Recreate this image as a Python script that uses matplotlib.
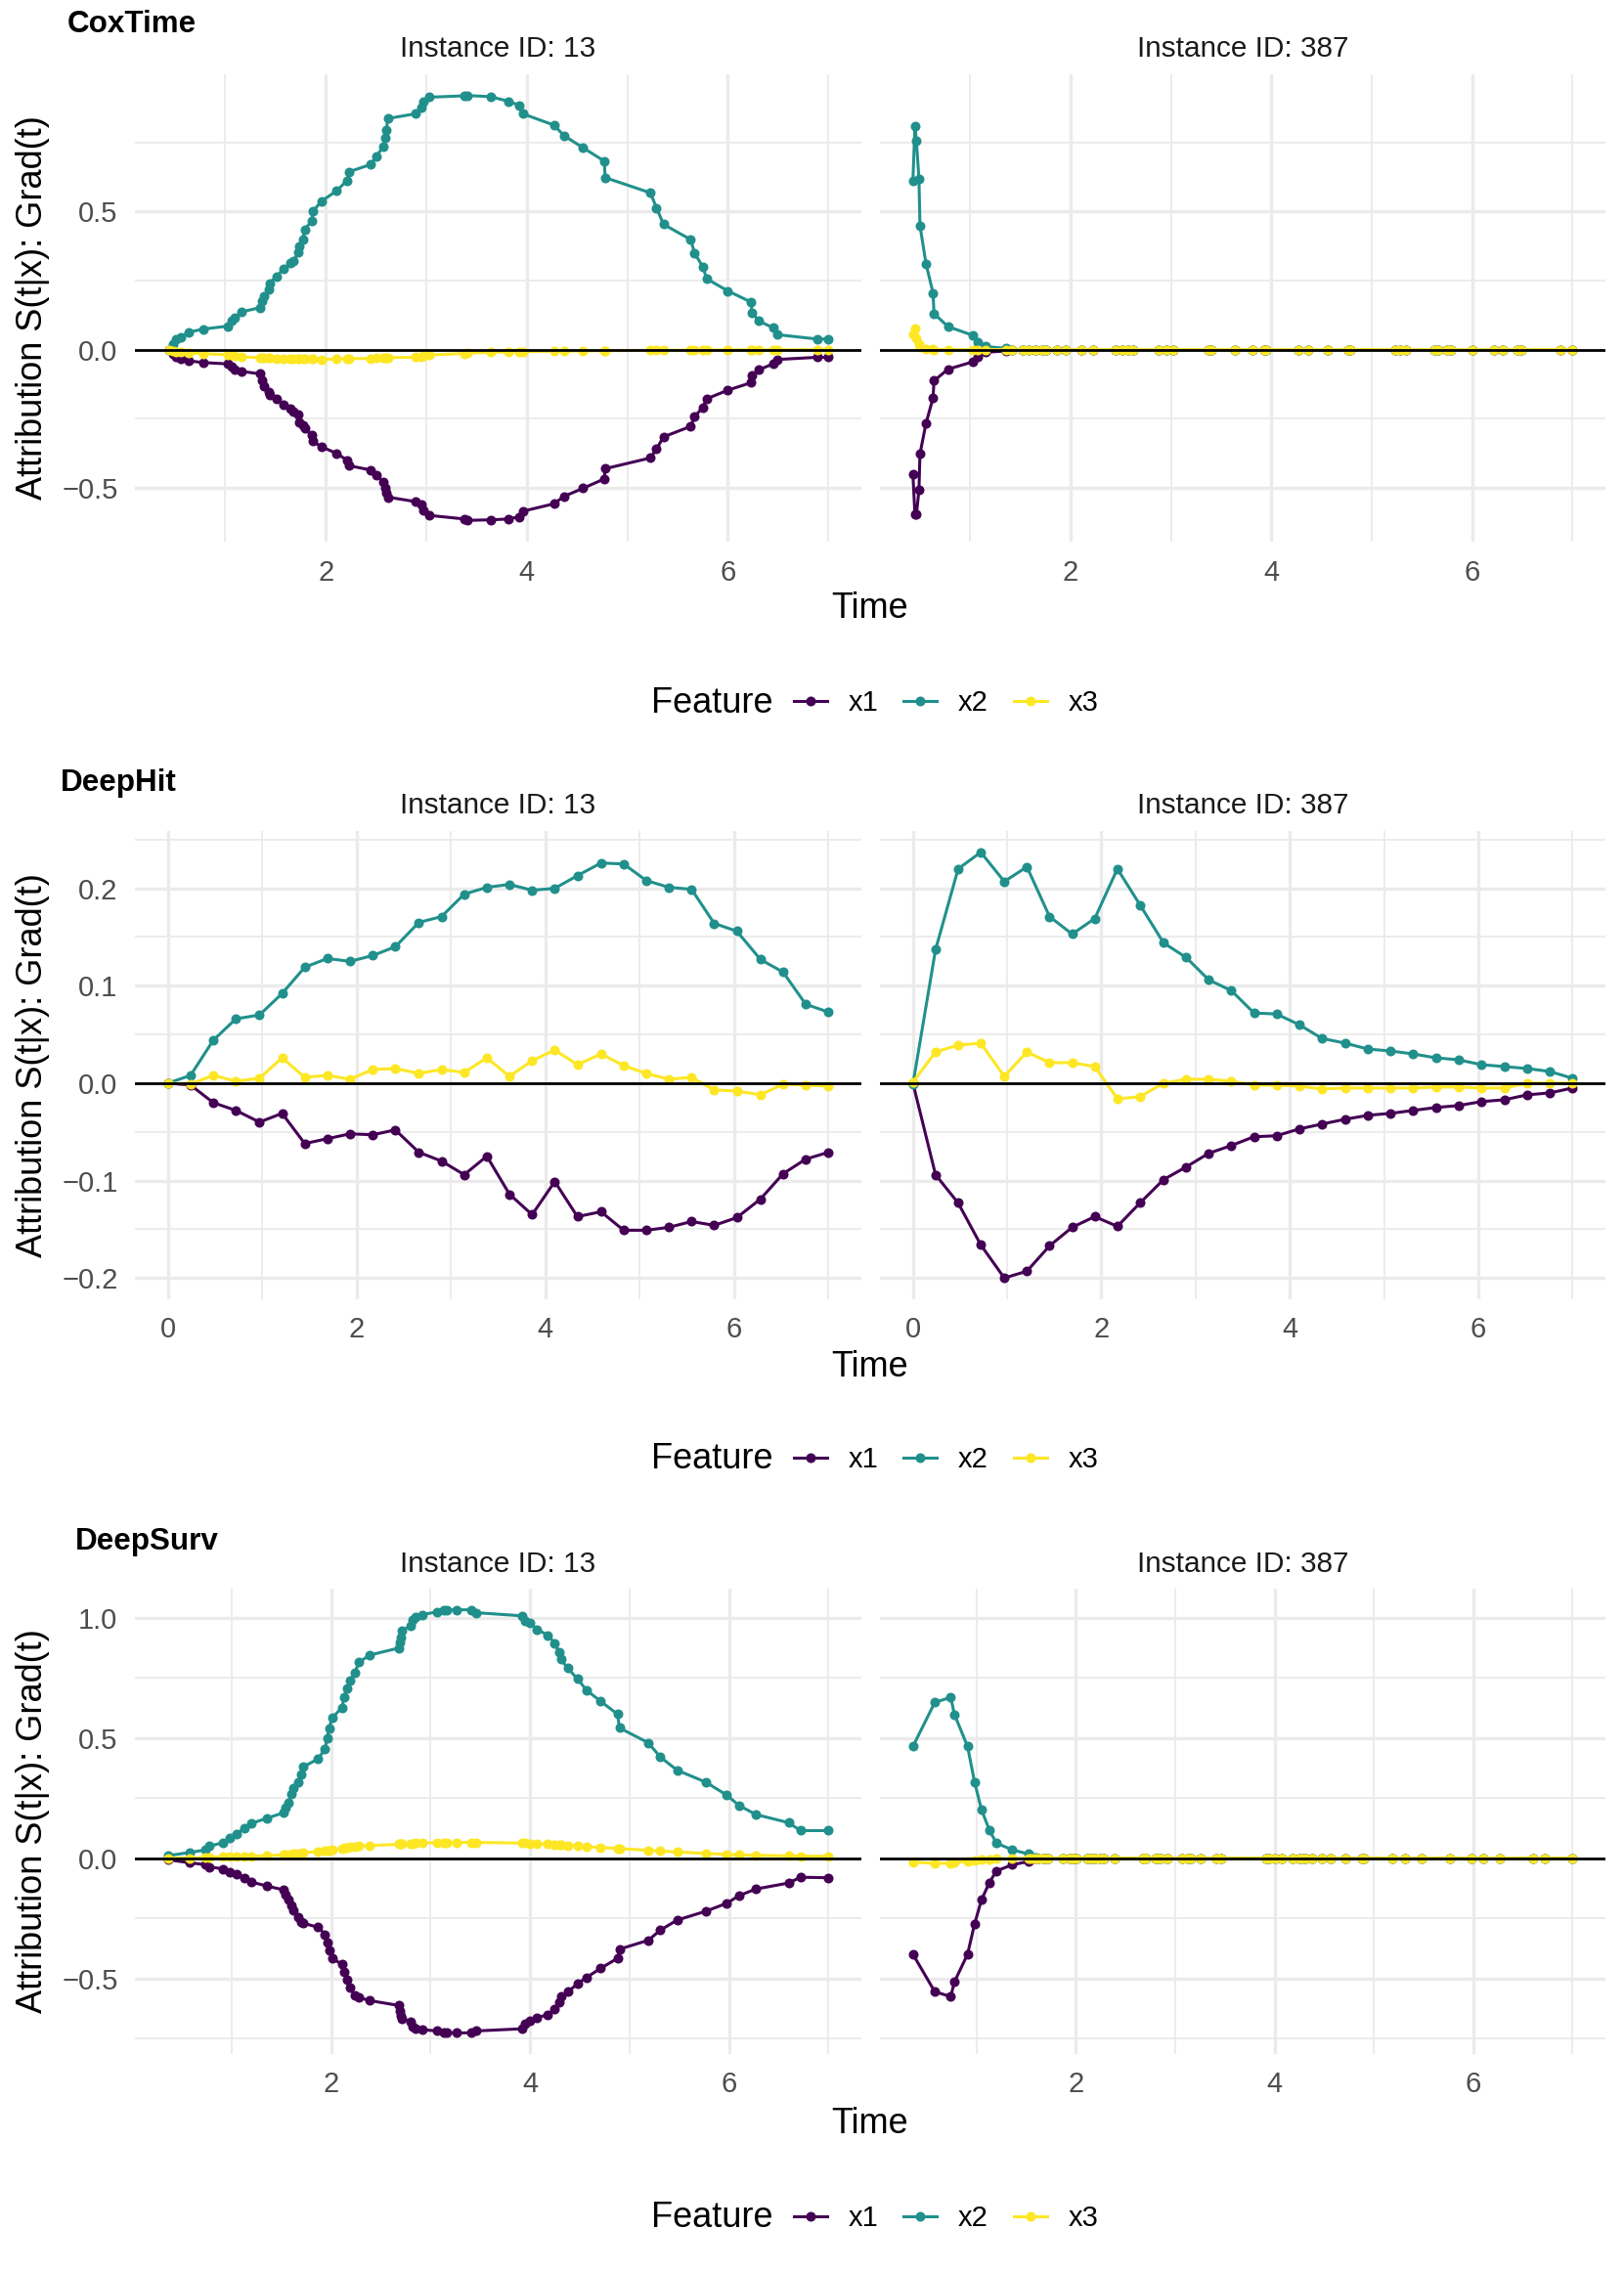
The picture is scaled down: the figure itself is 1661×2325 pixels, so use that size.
import matplotlib
matplotlib.use('Agg')
import matplotlib.pyplot as plt
from matplotlib.ticker import MultipleLocator
from matplotlib.lines import Line2D

plt.rcParams['font.family'] = ['Liberation Sans', 'DejaVu Sans']

# Feature names, colours (viridis, 3 levels), facets and models.
features = ['x1', 'x2', 'x3']
feature_colors = ['#440154', '#21908C', '#FDE725']
instance_ids = ['13', '387']
model_names = ['CoxTime', 'DeepHit', 'DeepSurv']

# ---- CoxTime ----
cox_t13 = [0.44, 0.48, 0.51, 0.56, 0.64, 0.78, 1.03, 1.06, 1.09, 1.16,
           1.35, 1.37, 1.39, 1.43, 1.44, 1.51, 1.58, 1.65, 1.68, 1.73,
           1.74, 1.77, 1.79, 1.86, 1.87, 1.96, 2.11, 2.21, 2.23, 2.45,
           2.50, 2.57, 2.59, 2.60, 2.62, 2.89, 2.95, 2.97, 3.03, 3.38,
           3.41, 3.64, 3.82, 3.92, 3.96, 4.27, 4.37, 4.56, 4.77, 4.78,
           5.23, 5.29, 5.36, 5.63, 5.67, 5.75, 5.79, 6.00, 6.23, 6.24,
           6.31, 6.45, 6.49, 6.89, 7.00]
cox_13_x1 = [0.000, -0.015, -0.025, -0.032, -0.041, -0.047, -0.052, -0.063, -0.073, -0.079,
             -0.088, -0.111, -0.131, -0.155, -0.163, -0.178, -0.199, -0.215, -0.226, -0.234,
             -0.262, -0.275, -0.286, -0.310, -0.332, -0.352, -0.376, -0.400, -0.420, -0.436,
             -0.455, -0.479, -0.499, -0.518, -0.534, -0.550, -0.562, -0.581, -0.600, -0.613,
             -0.618, -0.616, -0.613, -0.605, -0.585, -0.558, -0.531, -0.502, -0.468, -0.431,
             -0.392, -0.360, -0.316, -0.278, -0.242, -0.210, -0.178, -0.147, -0.120, -0.092,
             -0.073, -0.052, -0.036, -0.028, -0.028]
cox_13_x2 = [0.000, 0.019, 0.038, 0.046, 0.063, 0.074, 0.085, 0.106, 0.114, 0.136,
             0.152, 0.177, 0.193, 0.216, 0.240, 0.264, 0.292, 0.314, 0.322, 0.351,
             0.374, 0.398, 0.433, 0.466, 0.500, 0.537, 0.575, 0.611, 0.643, 0.670,
             0.698, 0.733, 0.765, 0.793, 0.836, 0.853, 0.875, 0.896, 0.913, 0.918,
             0.919, 0.915, 0.898, 0.884, 0.853, 0.812, 0.774, 0.730, 0.682, 0.622,
             0.567, 0.513, 0.453, 0.398, 0.348, 0.300, 0.256, 0.212, 0.172, 0.134,
             0.103, 0.079, 0.054, 0.038, 0.038]
cox_13_x3 = [0.000, -0.006, -0.008, -0.010, -0.012, -0.015, -0.019, -0.021, -0.023, -0.027,
             -0.029, -0.030, -0.030, -0.031, -0.031, -0.032, -0.032, -0.033, -0.033, -0.034,
             -0.034, -0.034, -0.035, -0.035, -0.035, -0.036, -0.034, -0.033, -0.033, -0.032,
             -0.031, -0.031, -0.030, -0.030, -0.029, -0.028, -0.025, -0.022, -0.020, -0.014,
             -0.013, -0.010, -0.009, -0.008, -0.008, -0.006, -0.006, -0.005, -0.004, -0.004,
             -0.003, -0.003, -0.003, -0.002, -0.002, -0.002, -0.002, -0.001, -0.001, -0.001,
             -0.001, -0.001, -0.001, 0.000, 0.000]

cox_t387 = [0.43, 0.45, 0.465, 0.49, 0.50, 0.56, 0.63, 0.64, 0.78, 1.03,
            1.08, 1.15, 1.36, 1.42, 1.52, 1.58, 1.65, 1.72, 1.76, 1.86,
            1.95, 2.11, 2.22, 2.45, 2.52, 2.58, 2.62, 2.88, 2.96, 3.02,
            3.37, 3.40, 3.64, 3.81, 3.93, 3.95, 4.27, 4.37, 4.56, 4.77,
            4.79, 5.23, 5.28, 5.34, 5.62, 5.66, 5.75, 5.79, 6.00, 6.22,
            6.31, 6.45, 6.49, 6.88, 7.00]
cox_387_x1 = [-0.452, -0.597, -0.597, -0.508, -0.378, -0.267, -0.176, -0.113, -0.071, -0.044,
              -0.025, -0.010, -0.005, 0.0, 0.0, 0.0, 0.0, 0.0, 0.0, 0.0,
              0.0, 0.0, 0.0, 0.0, 0.0, 0.0, 0.0, 0.0, 0.0, 0.0,
              0.0, 0.0, 0.0, 0.0, 0.0, 0.0, 0.0, 0.0, 0.0, 0.0,
              0.0, 0.0, 0.0, 0.0, 0.0, 0.0, 0.0, 0.0, 0.0, 0.0,
              0.0, 0.0, 0.0, 0.0, 0.0]
cox_387_x2 = [0.611, 0.810, 0.754, 0.617, 0.449, 0.311, 0.205, 0.130, 0.083, 0.051,
              0.027, 0.011, 0.004, 0.0, 0.0, 0.0, 0.0, 0.0, 0.0, 0.0,
              0.0, 0.0, 0.0, 0.0, 0.0, 0.0, 0.0, 0.0, 0.0, 0.0,
              0.0, 0.0, 0.0, 0.0, 0.0, 0.0, 0.0, 0.0, 0.0, 0.0,
              0.0, 0.0, 0.0, 0.0, 0.0, 0.0, 0.0, 0.0, 0.0, 0.0,
              0.0, 0.0, 0.0, 0.0, 0.0]
cox_387_x3 = [0.056, 0.075, 0.040, 0.019, 0.008, 0.002, 0.001, 0.000, 0.0, 0.0,
              0.0, 0.0, 0.0, 0.0, 0.0, 0.0, 0.0, 0.0, 0.0, 0.0,
              0.0, 0.0, 0.0, 0.0, 0.0, 0.0, 0.0, 0.0, 0.0, 0.0,
              0.0, 0.0, 0.0, 0.0, 0.0, 0.0, 0.0, 0.0, 0.0, 0.0,
              0.0, 0.0, 0.0, 0.0, 0.0, 0.0, 0.0, 0.0, 0.0, 0.0,
              0.0, 0.0, 0.0, 0.0, 0.0]

# ---- DeepHit (same discrete time grid for both instances) ----
dh_t = [0.00, 0.24, 0.48, 0.72, 0.97, 1.21, 1.45, 1.69, 1.93, 2.17,
        2.41, 2.66, 2.90, 3.14, 3.38, 3.62, 3.86, 4.10, 4.34, 4.59,
        4.83, 5.07, 5.31, 5.55, 5.79, 6.03, 6.28, 6.52, 6.76, 7.00]
dh_13_x1 = [0.000, -0.002, -0.020, -0.028, -0.040, -0.031, -0.062, -0.057, -0.052, -0.053,
            -0.048, -0.071, -0.080, -0.094, -0.075, -0.114, -0.135, -0.101, -0.137, -0.132,
            -0.151, -0.151, -0.148, -0.142, -0.146, -0.138, -0.119, -0.093, -0.078, -0.071]
dh_13_x2 = [0.000, 0.008, 0.044, 0.066, 0.070, 0.092, 0.119, 0.128, 0.125, 0.131,
            0.140, 0.165, 0.171, 0.194, 0.201, 0.204, 0.198, 0.200, 0.213, 0.226,
            0.225, 0.208, 0.201, 0.199, 0.164, 0.156, 0.127, 0.114, 0.081, 0.073]
dh_13_x3 = [0.000, -0.001, 0.008, 0.002, 0.005, 0.026, 0.006, 0.008, 0.004, 0.014,
            0.015, 0.010, 0.014, 0.011, 0.026, 0.007, 0.023, 0.034, 0.019, 0.030,
            0.018, 0.010, 0.004, 0.006, -0.007, -0.008, -0.012, -0.001, -0.002, -0.003]
dh_387_x1 = [0.000, -0.094, -0.123, -0.166, -0.200, -0.193, -0.167, -0.148, -0.137, -0.147,
             -0.123, -0.099, -0.086, -0.072, -0.064, -0.055, -0.054, -0.047, -0.042, -0.037,
             -0.033, -0.031, -0.028, -0.025, -0.023, -0.019, -0.017, -0.012, -0.010, -0.005]
dh_387_x2 = [-0.001, 0.137, 0.220, 0.237, 0.207, 0.222, 0.171, 0.153, 0.169, 0.220,
             0.183, 0.144, 0.129, 0.106, 0.095, 0.072, 0.071, 0.060, 0.046, 0.041,
             0.035, 0.033, 0.030, 0.026, 0.024, 0.019, 0.017, 0.015, 0.012, 0.005]
dh_387_x3 = [0.001, 0.032, 0.039, 0.041, 0.007, 0.032, 0.021, 0.021, 0.017, -0.016,
             -0.014, 0.000, 0.004, 0.004, 0.002, -0.002, -0.002, -0.003, -0.006, -0.005,
             -0.005, -0.005, -0.005, -0.004, -0.004, -0.005, -0.005, 0.000, 0.000, 0.000]

# ---- DeepSurv (shared event-time grid) ----
ds_t = [0.36, 0.58, 0.74, 0.78, 0.91, 0.98, 1.05, 1.13, 1.20, 1.36,
        1.52, 1.54, 1.57, 1.60, 1.62, 1.67, 1.70, 1.72, 1.87, 1.94,
        1.96, 1.98, 2.01, 2.11, 2.13, 2.16, 2.19, 2.24, 2.28, 2.39,
        2.68, 2.69, 2.70, 2.71, 2.80, 2.82, 2.85, 2.92, 3.07, 3.13,
        3.16, 3.26, 3.41, 3.46, 3.92, 3.95, 4.00, 4.07, 4.18, 4.25,
        4.29, 4.31, 4.38, 4.48, 4.57, 4.71, 4.88, 4.90, 5.19, 5.31,
        5.48, 5.77, 5.98, 6.10, 6.27, 6.60, 6.72, 7.00]
ds_13_x1 = [-0.007, -0.020, -0.028, -0.037, -0.045, -0.057, -0.067, -0.082, -0.100, -0.117,
            -0.132, -0.154, -0.174, -0.199, -0.216, -0.245, -0.266, -0.271, -0.288, -0.317,
            -0.350, -0.384, -0.417, -0.442, -0.472, -0.506, -0.539, -0.573, -0.580, -0.593,
            -0.613, -0.638, -0.657, -0.668, -0.680, -0.702, -0.710, -0.714, -0.719, -0.725,
            -0.727, -0.727, -0.727, -0.719, -0.710, -0.690, -0.677, -0.663, -0.652, -0.626,
            -0.601, -0.576, -0.556, -0.523, -0.496, -0.459, -0.417, -0.379, -0.342, -0.300,
            -0.258, -0.221, -0.188, -0.157, -0.129, -0.104, -0.080, -0.082]
ds_13_x2 = [0.010, 0.023, 0.034, 0.049, 0.064, 0.084, 0.101, 0.124, 0.144, 0.166,
            0.188, 0.211, 0.231, 0.265, 0.291, 0.317, 0.348, 0.379, 0.412, 0.454,
            0.499, 0.538, 0.583, 0.625, 0.667, 0.705, 0.739, 0.772, 0.814, 0.844,
            0.873, 0.898, 0.918, 0.945, 0.965, 0.990, 1.002, 1.012, 1.024, 1.029,
            1.032, 1.032, 1.032, 1.020, 1.007, 0.985, 0.978, 0.951, 0.926, 0.893,
            0.856, 0.827, 0.789, 0.744, 0.697, 0.652, 0.598, 0.541, 0.479, 0.420,
            0.365, 0.315, 0.261, 0.219, 0.181, 0.147, 0.114, 0.114]
ds_13_x3 = [0.000, 0.000, 0.002, 0.003, 0.005, 0.006, 0.007, 0.008, 0.008, 0.010,
            0.013, 0.014, 0.015, 0.016, 0.017, 0.019, 0.020, 0.022, 0.027, 0.029,
            0.030, 0.031, 0.035, 0.040, 0.042, 0.044, 0.045, 0.047, 0.049, 0.052,
            0.057, 0.057, 0.058, 0.058, 0.060, 0.061, 0.062, 0.063, 0.064, 0.065,
            0.065, 0.065, 0.065, 0.065, 0.062, 0.062, 0.061, 0.060, 0.058, 0.056,
            0.055, 0.054, 0.052, 0.050, 0.047, 0.044, 0.040, 0.039, 0.032, 0.029,
            0.025, 0.019, 0.015, 0.013, 0.011, 0.009, 0.008, 0.007]
ds_387_x1 = [-0.400, -0.556, -0.576, -0.513, -0.400, -0.275, -0.174, -0.102, -0.054, -0.028,
             -0.015, -0.005, -0.002, -0.001, 0.0, 0.0, 0.0, 0.0, 0.0, 0.0,
             0.0, 0.0, 0.0, 0.0, 0.0, 0.0, 0.0, 0.0, 0.0, 0.0,
             0.0, 0.0, 0.0, 0.0, 0.0, 0.0, 0.0, 0.0, 0.0, 0.0,
             0.0, 0.0, 0.0, 0.0, 0.0, 0.0, 0.0, 0.0, 0.0, 0.0,
             0.0, 0.0, 0.0, 0.0, 0.0, 0.0, 0.0, 0.0, 0.0, 0.0,
             0.0, 0.0, 0.0, 0.0, 0.0, 0.0, 0.0, 0.0]
ds_387_x2 = [0.464, 0.647, 0.668, 0.595, 0.464, 0.317, 0.201, 0.116, 0.062, 0.034,
             0.017, 0.005, 0.002, 0.001, 0.0, 0.0, 0.0, 0.0, 0.0, 0.0,
             0.0, 0.0, 0.0, 0.0, 0.0, 0.0, 0.0, 0.0, 0.0, 0.0,
             0.0, 0.0, 0.0, 0.0, 0.0, 0.0, 0.0, 0.0, 0.0, 0.0,
             0.0, 0.0, 0.0, 0.0, 0.0, 0.0, 0.0, 0.0, 0.0, 0.0,
             0.0, 0.0, 0.0, 0.0, 0.0, 0.0, 0.0, 0.0, 0.0, 0.0,
             0.0, 0.0, 0.0, 0.0, 0.0, 0.0, 0.0, 0.0]
ds_387_x3 = [-0.017, -0.022, -0.022, -0.018, -0.015, -0.010, -0.007, -0.005, -0.003, -0.002,
             -0.001, 0.0, 0.0, 0.0, 0.0, 0.0, 0.0, 0.0, 0.0, 0.0,
             0.0, 0.0, 0.0, 0.0, 0.0, 0.0, 0.0, 0.0, 0.0, 0.0,
             0.0, 0.0, 0.0, 0.0, 0.0, 0.0, 0.0, 0.0, 0.0, 0.0,
             0.0, 0.0, 0.0, 0.0, 0.0, 0.0, 0.0, 0.0, 0.0, 0.0,
             0.0, 0.0, 0.0, 0.0, 0.0, 0.0, 0.0, 0.0, 0.0, 0.0,
             0.0, 0.0, 0.0, 0.0, 0.0, 0.0, 0.0, 0.0]

# Organize per model -> per instance -> (time, [x1, x2, x3]).
data = {
    'CoxTime': [(cox_t13, [cox_13_x1, cox_13_x2, cox_13_x3]),
                (cox_t387, [cox_387_x1, cox_387_x2, cox_387_x3])],
    'DeepHit': [(dh_t, [dh_13_x1, dh_13_x2, dh_13_x3]),
                (dh_t, [dh_387_x1, dh_387_x2, dh_387_x3])],
    'DeepSurv': [(ds_t, [ds_13_x1, ds_13_x2, ds_13_x3]),
                 (ds_t, [ds_387_x1, ds_387_x2, ds_387_x3])],
}

# Layout in pixels of the 1661x2325 canvas.
W, H = 1661, 2325
panel_top = {'CoxTime': 76, 'DeepHit': 850, 'DeepSurv': 1625}
panel_bot = {'CoxTime': 554, 'DeepHit': 1329, 'DeepSurv': 2101}
title_pos = {'CoxTime': (69, 25), 'DeepHit': (62, 801), 'DeepSurv': (77, 1577)}
time_y = {'CoxTime': 623, 'DeepHit': 1398, 'DeepSurv': 2172}
legend_y = {'CoxTime': 719, 'DeepHit': 1493, 'DeepSurv': 2269}
y_steps = {'CoxTime': 0.5, 'DeepHit': 0.1, 'DeepSurv': 0.5}
facet_x = [(138, 881), (900, 1642)]

grid_col = '#EBEBEB'
fig = plt.figure(figsize=(W / 200, H / 200), dpi=200)

for model in model_names:
    top, bot = panel_top[model], panel_bot[model]
    axes = []
    for k, (x0, x1) in enumerate(facet_x):
        rect = [x0 / W, 1 - bot / H, (x1 - x0) / W, (bot - top) / H]
        if k == 0:
            ax = fig.add_axes(rect)
        else:
            ax = fig.add_axes(rect, sharex=axes[0], sharey=axes[0])
        axes.append(ax)

        t, series = data[model][k]
        for vals, col in zip(series, feature_colors):
            ax.plot(t, vals, color=col, lw=1.1, marker='o', ms=2.6, zorder=2)
        ax.axhline(0, color='black', lw=1.0, zorder=3)

        ax.margins(0.05)
        ax.xaxis.set_major_locator(MultipleLocator(2))
        ax.xaxis.set_minor_locator(MultipleLocator(1))
        ax.yaxis.set_major_locator(MultipleLocator(y_steps[model]))
        ax.yaxis.set_minor_locator(MultipleLocator(y_steps[model] / 2))
        ax.grid(which='major', color=grid_col, lw=1.2)
        ax.grid(which='minor', color=grid_col, lw=0.65)
        ax.set_axisbelow(True)
        for s in ax.spines.values():
            s.set_visible(False)
        ax.tick_params(which='both', length=0, labelsize=10.5,
                       labelcolor='#4D4D4D', pad=6.3)
        if k == 1:
            ax.tick_params(labelleft=False)
        ax.set_title('Instance ID: ' + instance_ids[k], fontsize=10.7,
                     color='#1A1A1A', pad=6.3)

    # Model title, axis titles and legend.
    tx, ty = title_pos[model]
    fig.text(tx / W, 1 - ty / H, model, fontsize=11.3, fontweight='bold',
             ha='left', va='center')
    fig.text(890 / W, 1 - time_y[model] / H, 'Time', fontsize=13,
             ha='center', va='center')
    fig.text(34 / W, 1 - (top + bot) / 2 / H, 'Attribution S(t|x): Grad(t)',
             fontsize=13, rotation=90, ha='center', va='center')

    ly = 1 - legend_y[model] / H
    fig.text(666 / W, ly, 'Feature', fontsize=13, ha='left', va='center')
    handles = [Line2D([], [], color=c, lw=1.1, marker='o', ms=2.6) for c in feature_colors]
    fig.legend(handles, features, loc='center left', bbox_to_anchor=(812 / W, ly),
               ncol=3, frameon=False, fontsize=10.5, handlelength=1.15,
               handletextpad=0.75, columnspacing=0.9, borderpad=0,
               borderaxespad=0)

plt.savefig('out.png', dpi=200)
